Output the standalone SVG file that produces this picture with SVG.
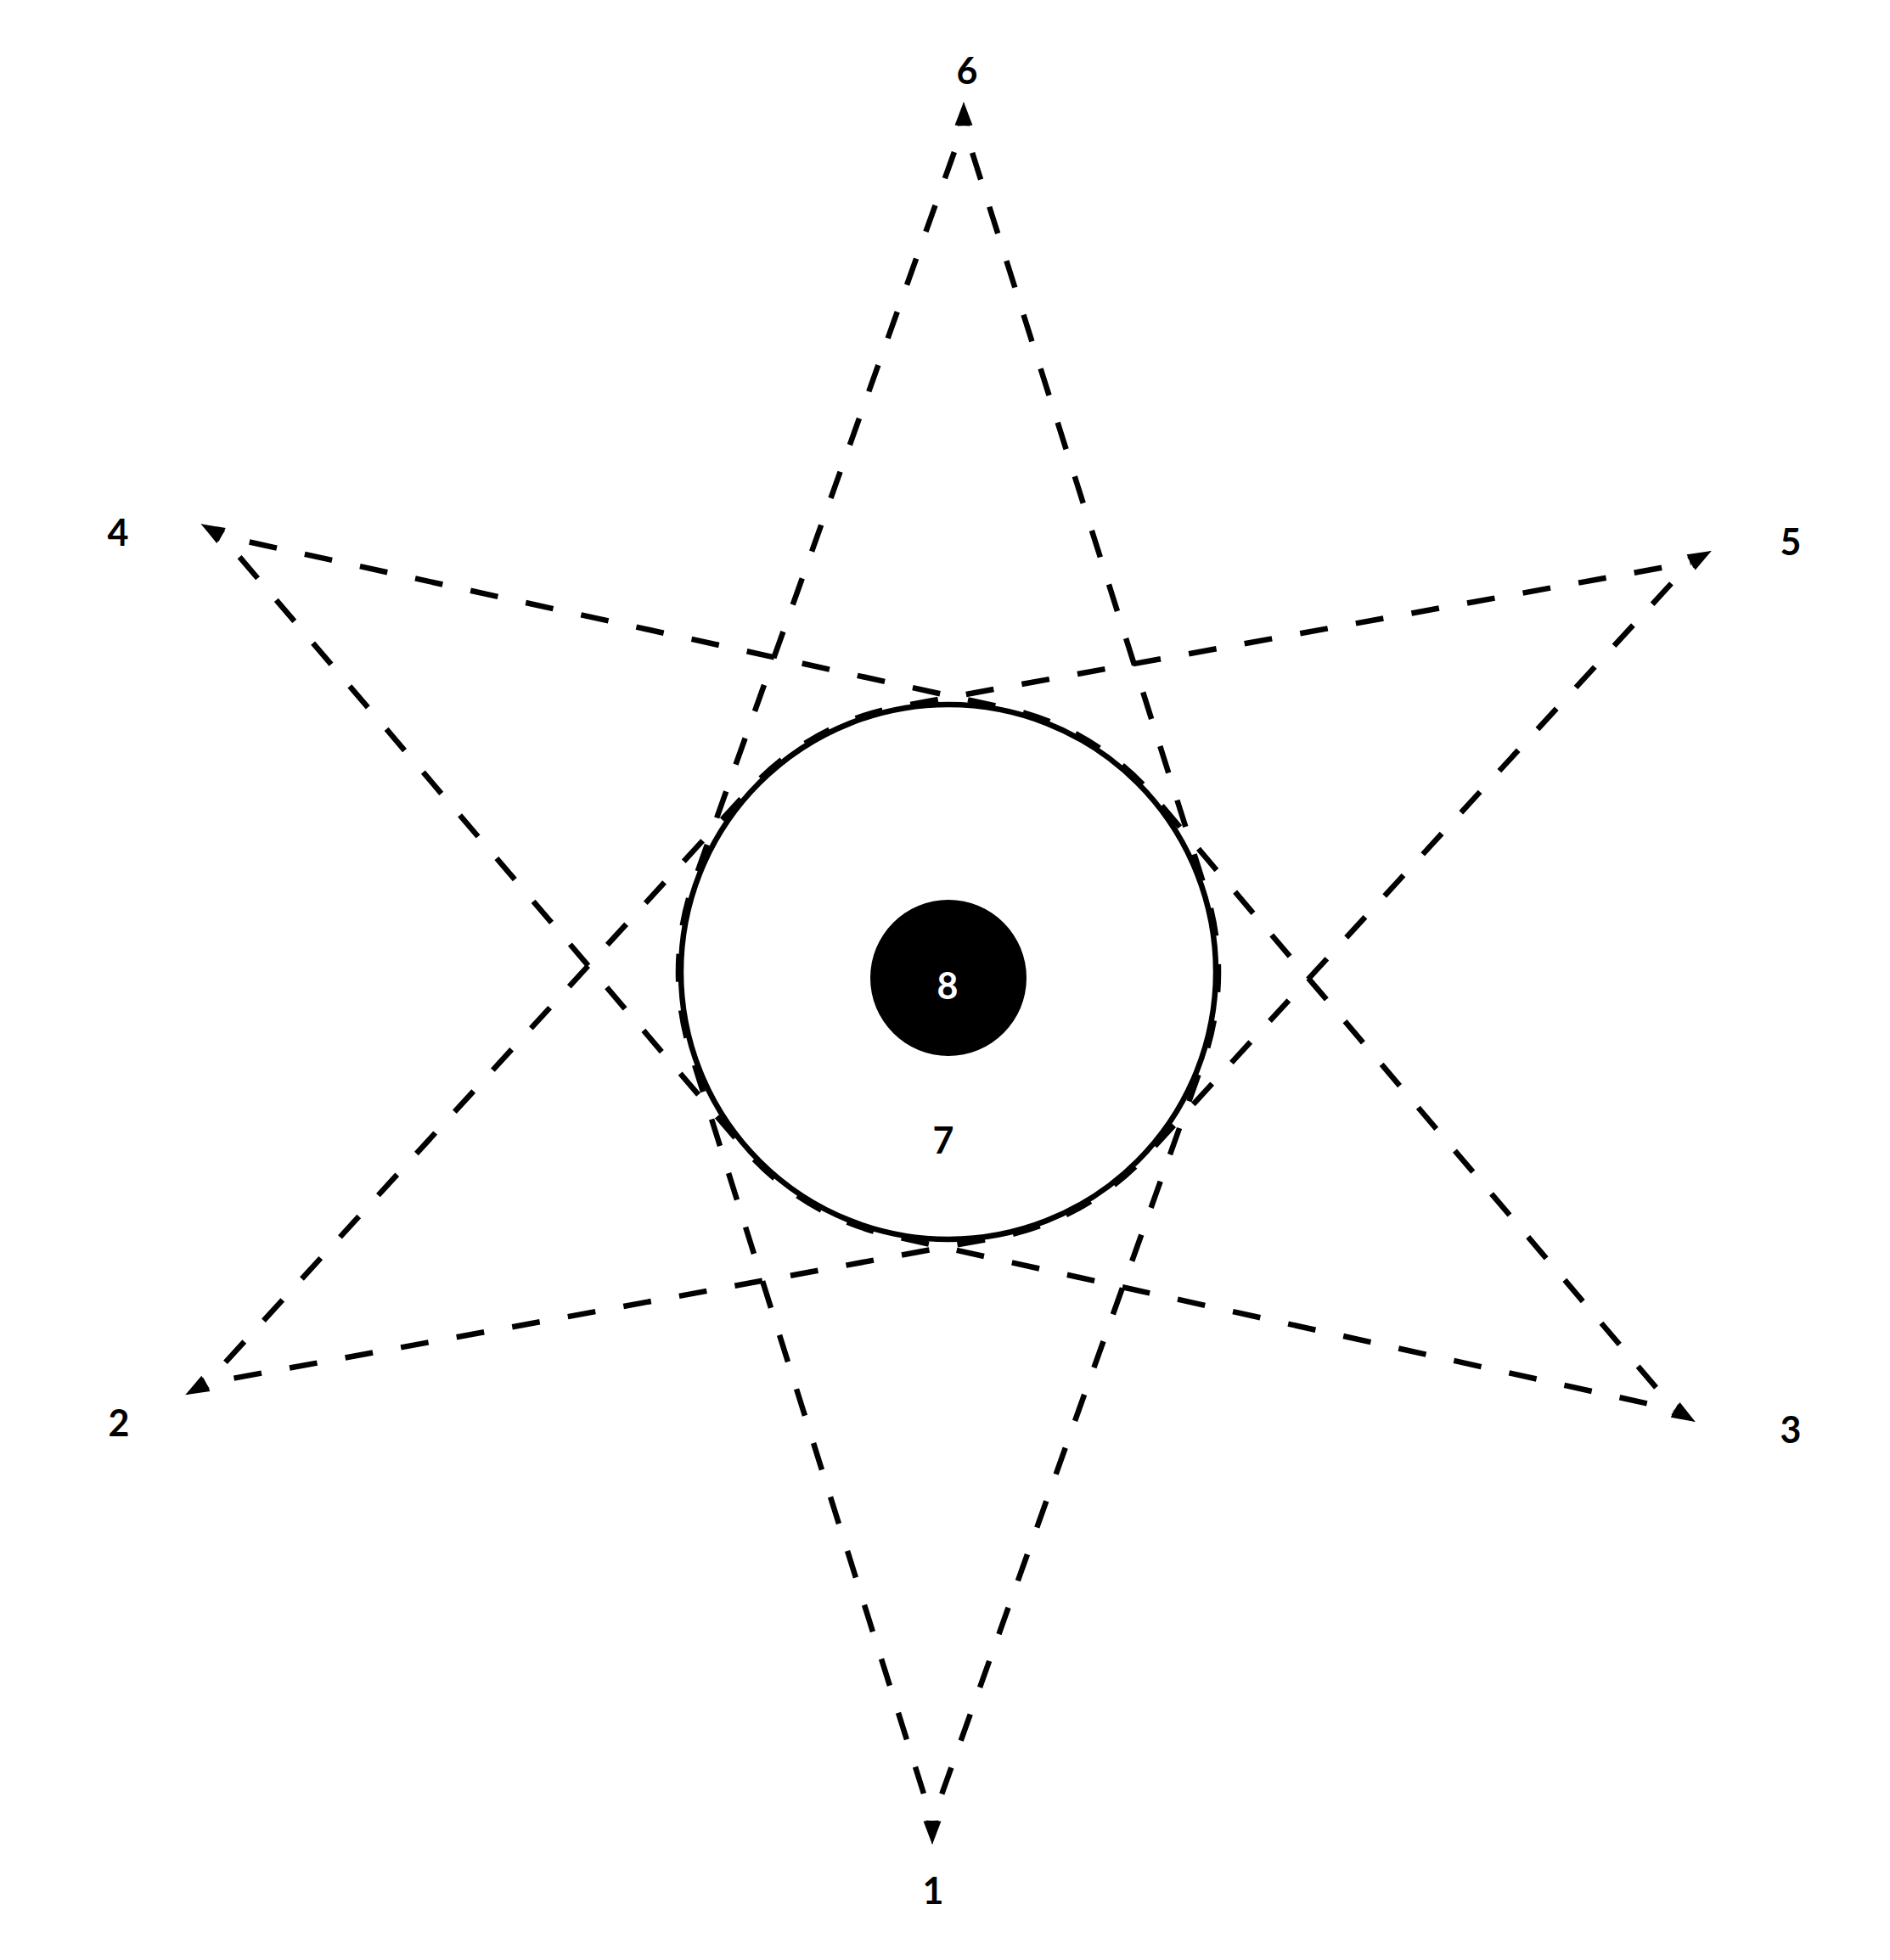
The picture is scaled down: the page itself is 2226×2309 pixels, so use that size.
<svg xmlns="http://www.w3.org/2000/svg" width="2226" height="2309" viewBox="0 0 2226 2309">
<style>
  .lbl{font-family:Lato,"Open Sans","DejaVu Sans",sans-serif;font-weight:700;font-size:43px;text-anchor:middle;fill:#000}
  .lbl8{fill:#fff}
  .edge{fill:none;stroke:#000;stroke-width:6.5;stroke-dasharray:33 33.65;stroke-dashoffset:33;stroke-linejoin:round}
  .ring{fill:none;stroke:#000;stroke-width:6.5}
  .head{fill:#000}
</style>
<defs>
  <path id="ah" d="M0 0 L-28 -9 L-28 9 Z"/>
</defs>
<rect width="2226" height="2309" fill="#fff"/>

<g id="node7">
  <circle class="ring" cx="1117" cy="1145" r="315"/>
  <text class="lbl" x="1111" y="1359">7</text>
</g>
<g id="node8">
  <circle cx="1117" cy="1152" r="92" fill="#000"/>
  <text class="lbl lbl8" x="1116" y="1177">8</text>
</g>

<g id="connectors">
  <path class="edge" d="M260.9 631.3 L1185.4 834.4 A318 318 0 0 1 1359.5 938.7 L1972.6 1660.7"/>
  <path class="edge" d="M1135 148 L1420.1 1049.1 A318 318 0 0 1 1416.6 1251.9 L1098 2145"/>
  <path class="edge" d="M1991.2 662.6 L1351.3 1359.9 A318 318 0 0 1 1174.9 1457.7 L242.8 1629.7"/>
  <path class="edge" d="M1972.6 1660.7 L1048 1455.4 A318 318 0 0 1 875.2 1351.4 L260.9 631.3"/>
  <path class="edge" d="M1098 2145 L813.6 1240.5 A318 318 0 0 1 817.5 1038.2 L1135 148"/>
  <path class="edge" d="M242.8 1629.7 L882.5 930.3 A318 318 0 0 1 1060 832.1 L1991.2 662.6"/>
  <use href="#ah" class="head" transform="translate(1135 120) rotate(-87)"/>
  <use href="#ah" class="head" transform="translate(1135 120) rotate(-93)"/>
  <use href="#ah" class="head" transform="translate(1098 2173) rotate(87)"/>
  <use href="#ah" class="head" transform="translate(1098 2173) rotate(93)"/>
  <use href="#ah" class="head" transform="translate(236.7 617.3) rotate(-147)"/>
  <use href="#ah" class="head" transform="translate(236.7 617.3) rotate(-153)"/>
  <use href="#ah" class="head" transform="translate(2015.7 649) rotate(-26)"/>
  <use href="#ah" class="head" transform="translate(2015.7 649) rotate(-32)"/>
  <use href="#ah" class="head" transform="translate(218.3 1643.3) rotate(148)"/>
  <use href="#ah" class="head" transform="translate(218.3 1643.3) rotate(154)"/>
  <use href="#ah" class="head" transform="translate(1996.7 1675) rotate(28)"/>
  <use href="#ah" class="head" transform="translate(1996.7 1675) rotate(34)"/>
</g>

<g id="node1"><text class="lbl" x="1099" y="2243">1</text></g>
<g id="node2"><text class="lbl" x="140" y="1692">2</text></g>
<g id="node3"><text class="lbl" x="2109" y="1700">3</text></g>
<g id="node4"><text class="lbl" x="139" y="643">4</text></g>
<g id="node5"><text class="lbl" x="2109" y="654">5</text></g>
<g id="node6"><text class="lbl" x="1139" y="99">6</text></g>
</svg>
